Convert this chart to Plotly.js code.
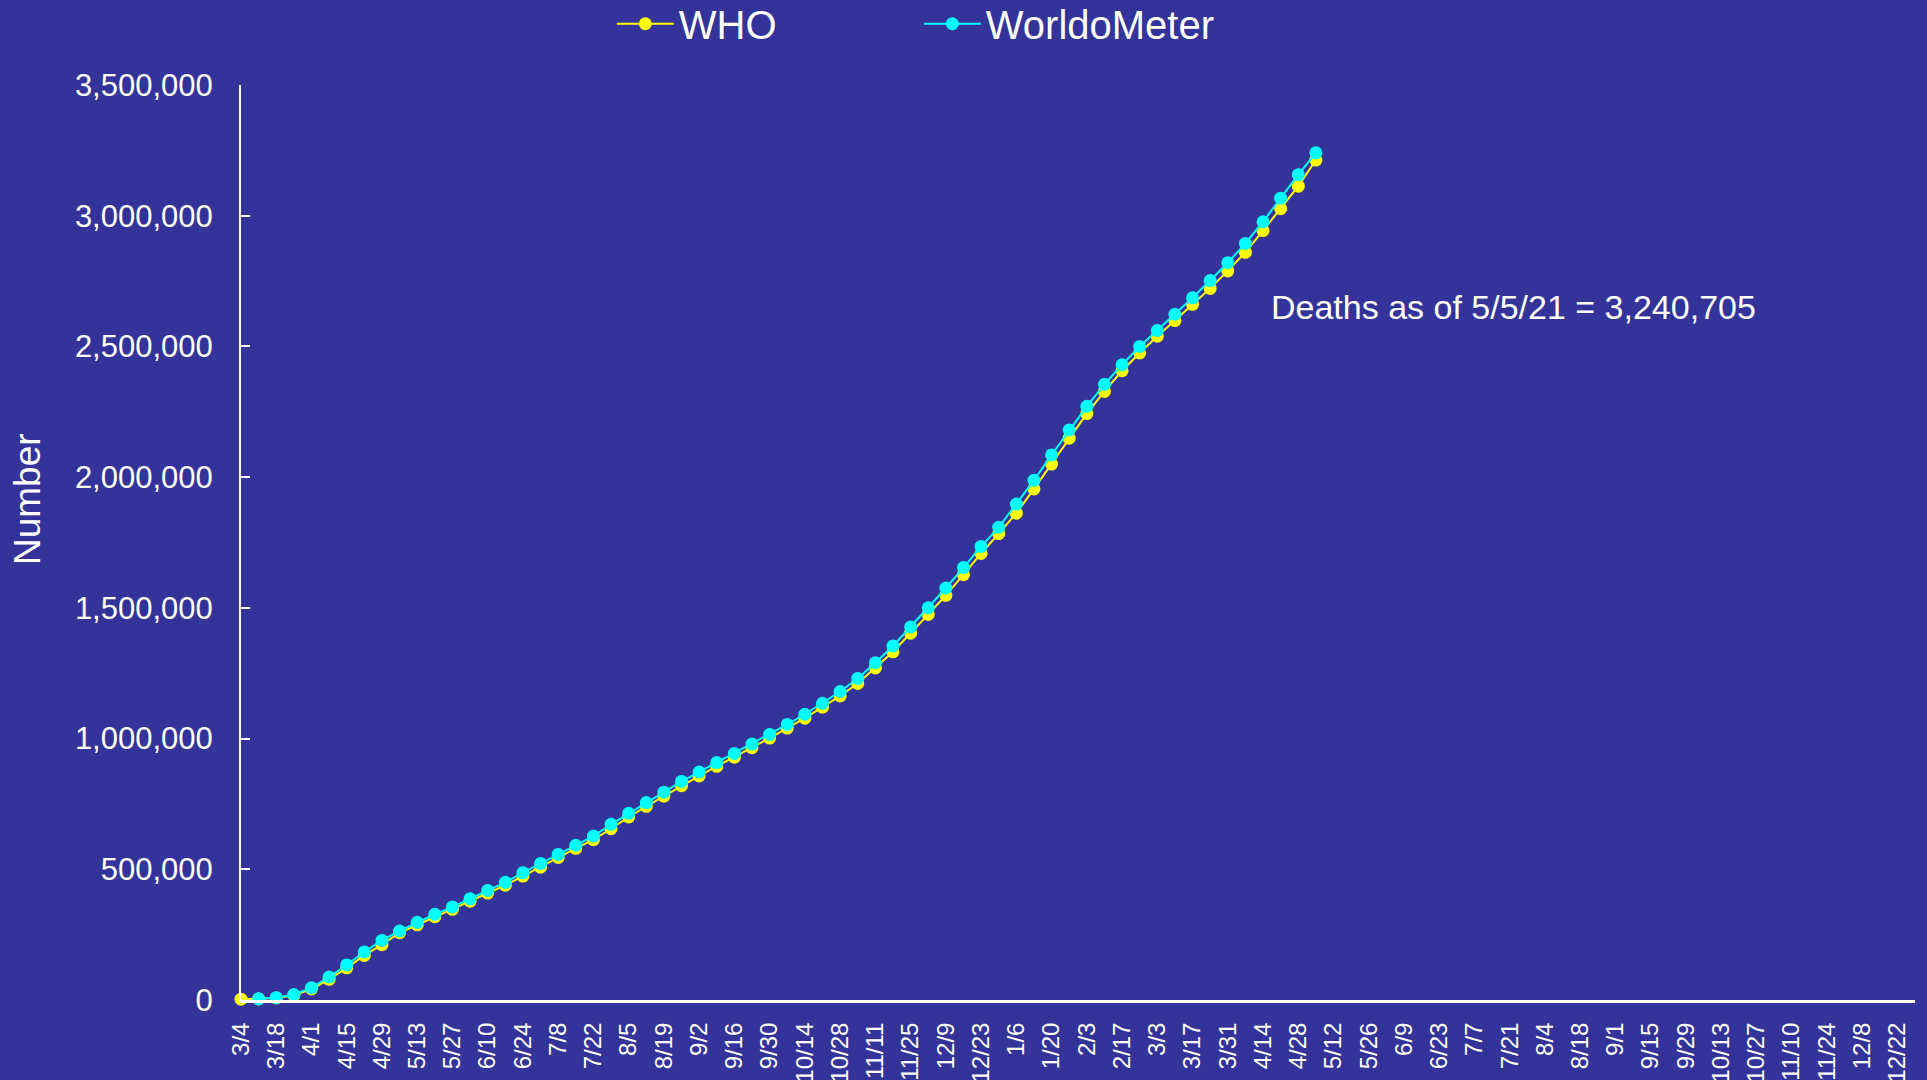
<!DOCTYPE html>
<html>
<head>
<meta charset="utf-8">
<script src="https://cdn.plot.ly/plotly-3.0.1.min.js"></script>
<style>
  html, body { margin: 0; padding: 0; background: #333399; }
  #chart { width: 1927px; height: 1080px; }
</style>
</head>
<body>
<div id="chart"></div>
<script>
// Weekly dates, 3/4/2020 through 12/29/2021
const categories = [
  "3/4","3/11","3/18","3/25","4/1","4/8","4/15","4/22","4/29","5/6","5/13","5/20","5/27",
  "6/3","6/10","6/17","6/24","7/1","7/8","7/15","7/22","7/29","8/5","8/12","8/19","8/26",
  "9/2","9/9","9/16","9/23","9/30","10/7","10/14","10/21","10/28","11/4","11/11","11/18","11/25",
  "12/2","12/9","12/16","12/23","12/30",
  "1/6","1/13","1/20","1/27","2/3","2/10","2/17","2/24","3/3","3/10","3/17","3/24","3/31",
  "4/7","4/14","4/21","4/28","5/5","5/12","5/19","5/26","6/2","6/9","6/16","6/23","6/30",
  "7/7","7/14","7/21","7/28","8/4","8/11","8/18","8/25","9/1","9/8","9/15","9/22","9/29",
  "10/6","10/13","10/20","10/27","11/3","11/10","11/17","11/24","12/1","12/8","12/15","12/22","12/29"
];

// Cumulative deaths reported by WHO (3/4/2020 .. 5/5/2021)
const whoDeaths = [
  3110, 4290, 7970, 18400, 42100, 79200, 123000, 170400, 211600, 257200, 287400, 318800, 346700,
  378000, 409000, 439000, 474000, 508000, 545000, 580000, 613000, 655000, 700000, 741000, 780000, 820000,
  857000, 894000, 929000, 965000, 1002000, 1040000, 1078000, 1120000, 1163000, 1211000, 1270000, 1332000, 1403000,
  1475000, 1548000, 1627000, 1708000, 1784000,
  1862000, 1955000, 2050000, 2149000, 2243000, 2328000, 2407000, 2475000, 2539000, 2599000, 2661000, 2722000, 2789000,
  2860000, 2943000, 3027000, 3113000, 3213000
];

// Cumulative deaths reported by WorldoMeter (first week not reported)
const worldometerDeaths = [
  null, 4600, 8800, 21000, 47000, 88000, 134000, 184000, 228000, 264000, 297000, 328000, 356000,
  387000, 419000, 450000, 487000, 522000, 557000, 592000, 627000, 672000, 714000, 755000, 795000, 836000,
  872000, 908000, 943000, 979000, 1016000, 1054000, 1093000, 1135000, 1180000, 1230000, 1290000, 1354000, 1427000,
  1500000, 1576000, 1654000, 1735000, 1808000,
  1897000, 1988000, 2085000, 2180000, 2271000, 2355000, 2430000, 2500000, 2561000, 2623000, 2686000, 2752000, 2820000,
  2894000, 2977000, 3067000, 3157000, 3240705
];

const seriesNames = ["WHO", "WorldoMeter"];
const annotationText = "Deaths as of 5/5/21 = 3,240,705";
const yTitle = "Number";

const FONT = "Liberation Sans, Arial, sans-serif";

const traces = [
  {
    type: "scatter", mode: "lines+markers", name: seriesNames[0],
    x: categories.slice(0, whoDeaths.length), y: whoDeaths,
    line: { color: "#FFFF00", width: 2 },
    marker: { color: "#FFFF00", size: 13 },
    cliponaxis: false
  },
  {
    type: "scatter", mode: "lines+markers", name: seriesNames[1],
    x: categories.slice(0, worldometerDeaths.length), y: worldometerDeaths,
    line: { color: "#00FFFF", width: 2 },
    marker: { color: "#00FFFF", size: 13 },
    connectgaps: false,
    cliponaxis: false
  }
];

const layout = {
  width: 1927, height: 1080,
  paper_bgcolor: "#333399", plot_bgcolor: "#333399",
  font: { family: FONT, color: "#FFFFFF" },
  margin: { l: 241, r: 12, t: 85, b: 80, pad: 0 },
  showlegend: true,
  legend: {
    orientation: "h", xref: "container", yref: "container",
    x: 0.3175, xanchor: "left", y: 0.978, yanchor: "middle",
    font: { family: FONT, size: 40, color: "#FFFFFF" },
    itemwidth: 57,
    entrywidth: 235, bgcolor: "rgba(0,0,0,0)", borderwidth: 0
  },
  xaxis: {
    type: "category", categoryorder: "array", categoryarray: categories,
    range: [0, categories.length - 1],
    tickmode: "linear", tick0: 0, dtick: 2,
    tickangle: -90, ticks: "", showgrid: false, zeroline: false,
    showline: true, linecolor: "#FFFFFF", linewidth: 3,
    tickfont: { family: FONT, size: 24, color: "#FFFFFF" },
    ticklabelstandoff: 10,
    automargin: false, fixedrange: true
  },
  yaxis: {
    range: [0, 3500000], tickmode: "linear", tick0: 0, dtick: 500000,
    tickformat: ",d", ticks: "inside", ticklen: 9, tickwidth: 2, tickcolor: "#FFFFFF",
    showgrid: false, zeroline: false,
    showline: true, linecolor: "#FFFFFF", linewidth: 2,
    tickfont: { family: FONT, size: 31, color: "#FFFFFF" },
    ticklabelstandoff: 20,
    automargin: false, fixedrange: true
  },
  annotations: [
    {
      text: yTitle, xref: "paper", yref: "paper",
      x: -0.1275, y: 0.547, xanchor: "center", yanchor: "middle",
      textangle: -90, showarrow: false,
      font: { family: FONT, size: 37, color: "#FFFFFF" }
    },
    {
      text: annotationText, xref: "paper", yref: "paper",
      x: 0.614, y: 0.757, xanchor: "left", yanchor: "middle",
      showarrow: false,
      font: { family: FONT, size: 34, color: "#FFFFFF" }
    }
  ]
};

Plotly.newPlot("chart", traces, layout, { displayModeBar: false, staticPlot: true });
</script>
</body>
</html>
